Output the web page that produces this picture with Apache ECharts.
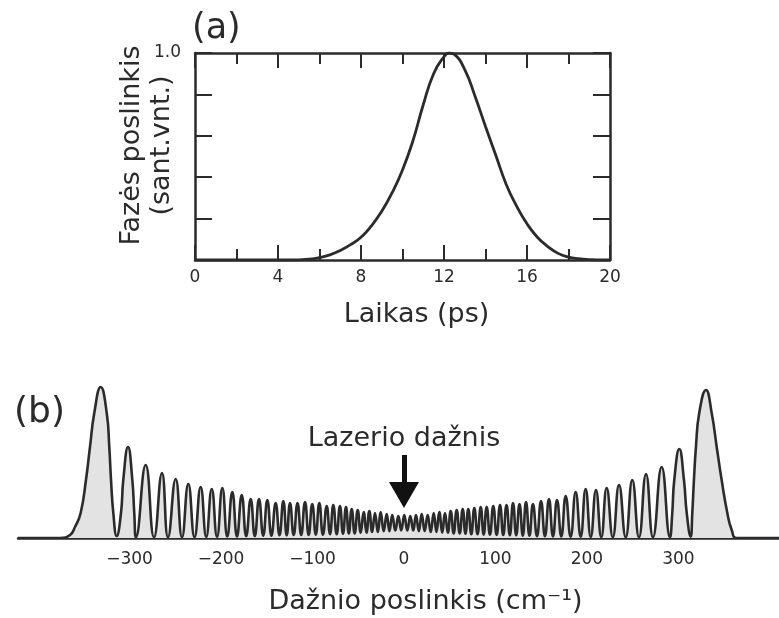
<!DOCTYPE html>
<html>
<head>
<meta charset="utf-8">
<script src="https://cdn.jsdelivr.net/npm/echarts@6/dist/echarts.min.js"></script>
<style>
  html, body { margin: 0; padding: 0; background: #ffffff; }
  #chart { width: 779px; height: 618px; }
</style>
</head>
<body>
<div id="chart"></div>
<script>
// (a) phase shift of the pulse vs. time
const timePs = [0, 1, 2, 3, 4, 4.5, 5, 5.5, 6, 6.5, 7, 7.5, 8, 8.5, 9, 9.5, 10, 10.5, 11, 11.5, 12, 12.25, 12.5, 13, 13.5, 14, 14.5, 15, 15.5, 16, 16.5, 17, 17.5, 18, 18.5, 19, 19.5, 20];
const phase = [0, 0, 0, 0, 0, 0, 0.001, 0.004, 0.012, 0.025, 0.046, 0.074, 0.11, 0.165, 0.235, 0.325, 0.435, 0.575, 0.75, 0.9, 0.982, 1.0, 0.993, 0.92, 0.79, 0.645, 0.505, 0.365, 0.26, 0.175, 0.11, 0.065, 0.032, 0.014, 0.006, 0.002, 0, 0];
const timeTicks = [0, 4, 8, 12, 16, 20];

// (b) self-phase-modulated spectrum: frequency shift (cm^-1) and intensity (arb.)
const shiftCm = [
  -422, -376.1, -365.1, -359.7, -353.5, -347.7, -343.3, -338.6, -331.6, -325.0, -322.2, -320.3, -317.8, -314.1,
  -309.4, -306.9, -301.7, -297.0, -294.9, -293.0,
  -282.4, -273.3, -264.6, -258.0, -249.6, -242.7, -235.8, -229.0, -222.3, -216.2,
  -210.2, -204.4, -198.6, -193.2, -187.7, -182.6, -177.4, -172.5, -167.6, -163.1,
  -158.5, -153.9, -149.4, -144.9, -140.3, -136.1, -131.9, -128.2, -124.6, -120.6,
  -116.4, -112.4, -108.2, -104.2, -100.3, -96.4, -92.6, -88.6, -84.5, -80.9,
  -77.3, -73.6, -70.0, -66.7, -63.4, -60.3, -57.2, -53.9, -50.6, -47.3,
  -44.1, -41.0, -37.9, -34.8, -31.7, -28.6, -25.5, -22.2, -18.9, -15.9,
  -12.8, -9.5, -6.2, -3.0, 0.3, 3.6, 6.9, 10.1, 13.1, 16.2,
  19.4, 22.6, 25.9, 29.2, 32.5, 35.5, 38.6, 41.8, 44.8, 47.9,
  51.1, 54.3, 57.6, 60.9, 64.2, 67.2, 70.3, 73.6, 76.9, 80.4,
  83.9, 87.1, 90.4, 94.0, 97.6, 101.3, 105.0, 108.5, 112.1, 115.7,
  119.2, 122.7, 126.3, 129.9, 133.4, 137.2, 141.0, 145.4, 149.8, 154.1,
  158.5, 162.9, 167.3, 172.0, 176.8, 182.2, 187.7, 193.2, 198.6, 204.2,
  209.9, 215.7, 221.6, 228.3, 235.1, 242.4, 249.6, 256.9, 264.6, 272.2,
  281.7, 290.8, 293.3, 295.5, 301.0, 306.1, 309.1, 313.4,
  315.2, 317.0, 319.2, 322.8, 330.2, 336.4, 341.9, 347.3, 353.5, 358.3, 363.7, 410
];
const intensity = [
  0, 0, 0.020, 0.073, 0.166, 0.384, 0.603, 0.828, 1.0, 0.828, 0.603, 0.384, 0.166, 0.013,
  0.166, 0.384, 0.603, 0.384, 0.166, 0.005,
  0.483, 0.005, 0.430, 0.005, 0.391, 0.005, 0.358, 0.005, 0.338, 0.007,
  0.325, 0.008, 0.331, 0.010, 0.305, 0.010, 0.285, 0.012, 0.258, 0.012,
  0.258, 0.015, 0.252, 0.015, 0.232, 0.018, 0.245, 0.018, 0.232, 0.020,
  0.232, 0.020, 0.238, 0.020, 0.225, 0.022, 0.232, 0.022, 0.212, 0.025,
  0.219, 0.025, 0.212, 0.028, 0.205, 0.030, 0.192, 0.030, 0.185, 0.035,
  0.172, 0.035, 0.179, 0.040, 0.166, 0.040, 0.172, 0.045, 0.159, 0.045,
  0.152, 0.050, 0.146, 0.050, 0.152, 0.050, 0.146, 0.050, 0.152, 0.045,
  0.159, 0.045, 0.152, 0.040, 0.166, 0.040, 0.172, 0.035, 0.166, 0.035,
  0.179, 0.030, 0.185, 0.030, 0.192, 0.028, 0.192, 0.025, 0.199, 0.025,
  0.205, 0.022, 0.205, 0.022, 0.212, 0.020, 0.219, 0.020, 0.219, 0.018,
  0.232, 0.018, 0.225, 0.015, 0.238, 0.015, 0.225, 0.012, 0.245, 0.012,
  0.258, 0.010, 0.252, 0.010, 0.278, 0.008, 0.305, 0.008, 0.325, 0.007,
  0.318, 0.005, 0.331, 0.005, 0.351, 0.005, 0.384, 0.005, 0.424, 0.005,
  0.470, 0.005, 0.166, 0.384, 0.589, 0.384, 0.166, 0.009,
  0.166, 0.384, 0.603, 0.828, 0.980, 0.828, 0.603, 0.384, 0.166, 0.053, 0, 0
];
const shiftTicks = [-300, -200, -100, 0, 100, 200, 300];

const ink = '#2b2b2b';
const font = 'DejaVu Sans';

const chart = echarts.init(document.getElementById('chart'), null, { renderer: 'canvas' });

const tickStyle = { color: ink, width: 2 };
const frameLine = { onZero: false, lineStyle: { color: ink, width: 2.5 } };

chart.setOption({
  animation: false,
  backgroundColor: '#ffffff',
  textStyle: { fontFamily: font, color: ink },
  title: [
    { text: '(a)', left: 187, top: 6, textStyle: { fontFamily: font, fontSize: 35, fontWeight: 'normal', color: ink } },
    { text: '(b)', left: 9, top: 390, textStyle: { fontFamily: font, fontSize: 36, fontWeight: 'normal', color: ink } }
  ],
  grid: [
    { left: 195, top: 53, width: 415, height: 207 },
    { left: 18, top: 387, width: 761, height: 151 }
  ],
  xAxis: [
    {
      gridIndex: 0, type: 'value', position: 'bottom', min: 0, max: 20, interval: 4,
      axisLine: frameLine, splitLine: { show: false },
      axisTick: { inside: true, length: 15, lineStyle: tickStyle },
      minorTick: { show: true, splitNumber: 2, length: 11, lineStyle: tickStyle },
      axisLabel: { fontSize: 17, margin: 9, color: ink, fontFamily: font, customValues: timeTicks },
      name: 'Laikas (ps)', nameLocation: 'middle', nameGap: 41, nameMoveOverlap: false,
      nameTextStyle: { fontSize: 27, color: ink, fontFamily: font, padding: [0, 0, 0, 28] }
    },
    {
      gridIndex: 0, type: 'value', position: 'top', min: 0, max: 20, interval: 4,
      axisLine: frameLine, splitLine: { show: false },
      axisTick: { inside: true, length: 15, lineStyle: tickStyle },
      minorTick: { show: true, splitNumber: 2, length: 11, lineStyle: tickStyle },
      axisLabel: { show: false }
    },
    {
      gridIndex: 1, type: 'value', position: 'bottom', min: -422, max: 410,
      axisLine: frameLine,
      axisTick: { show: false },
      splitLine: { show: false },
      axisLabel: {
        fontSize: 17, margin: 13, color: ink, fontFamily: font,
        customValues: shiftTicks,
        formatter: v => String(v).replace('-', '\u2212')
      },
      name: 'Dažnio poslinkis (cm⁻¹)', nameLocation: 'middle', nameGap: 50, nameMoveOverlap: false,
      nameTextStyle: { fontSize: 27, color: ink, fontFamily: font, padding: [0, 0, 0, 54] }
    }
  ],
  yAxis: [
    {
      gridIndex: 0, type: 'value', position: 'left', min: 0, max: 1, interval: 0.2,
      axisLine: frameLine, splitLine: { show: false },
      axisTick: { inside: true, length: 17, lineStyle: tickStyle },
      axisLabel: {
        fontSize: 17, margin: 14, color: ink, fontFamily: font,
        formatter: v => (v === 1 ? '1.0' : '')
      },
      name: 'Fazės poslinkis\n(sant.vnt.)', nameLocation: 'middle', nameGap: 18, nameRotate: 90,
      nameMoveOverlap: false,
      nameTextStyle: { fontSize: 27, lineHeight: 30, color: ink, fontFamily: font, align: 'center', padding: [0, 0, 0, 22] }
    },
    {
      gridIndex: 0, type: 'value', position: 'right', min: 0, max: 1, interval: 0.2,
      axisLine: frameLine, splitLine: { show: false },
      axisTick: { inside: true, length: 17, lineStyle: tickStyle },
      axisLabel: { show: false }
    },
    { gridIndex: 1, type: 'value', min: 0, max: 1, show: false }
  ],
  series: [
    {
      type: 'line', xAxisIndex: 0, yAxisIndex: 0,
      data: timePs.map((t, i) => [t, phase[i]]),
      smooth: 0.5, symbol: 'none', silent: true,
      lineStyle: { color: ink, width: 2.8 }
    },
    {
      type: 'line', xAxisIndex: 2, yAxisIndex: 2,
      data: shiftCm.map((s, i) => [s, intensity[i]]),
      smooth: 0.5, symbol: 'none', silent: true,
      lineStyle: { color: ink, width: 2.6 },
      areaStyle: { color: '#e3e3e3', opacity: 1 },
      markLine: {
        silent: true,
        symbol: ['none', 'triangle'],
        symbolSize: [30, 26],
        lineStyle: { color: '#111', width: 5, type: 'solid' },
        label: {
          show: true, position: 'start', distance: 2,
          formatter: 'Lazerio dažnis',
          fontSize: 27, color: ink, fontFamily: font
        },
        data: [[{ coord: [0, 0.55] }, { coord: [0, 0.285] }]]
      }
    }
  ]
});
</script>
</body>
</html>
